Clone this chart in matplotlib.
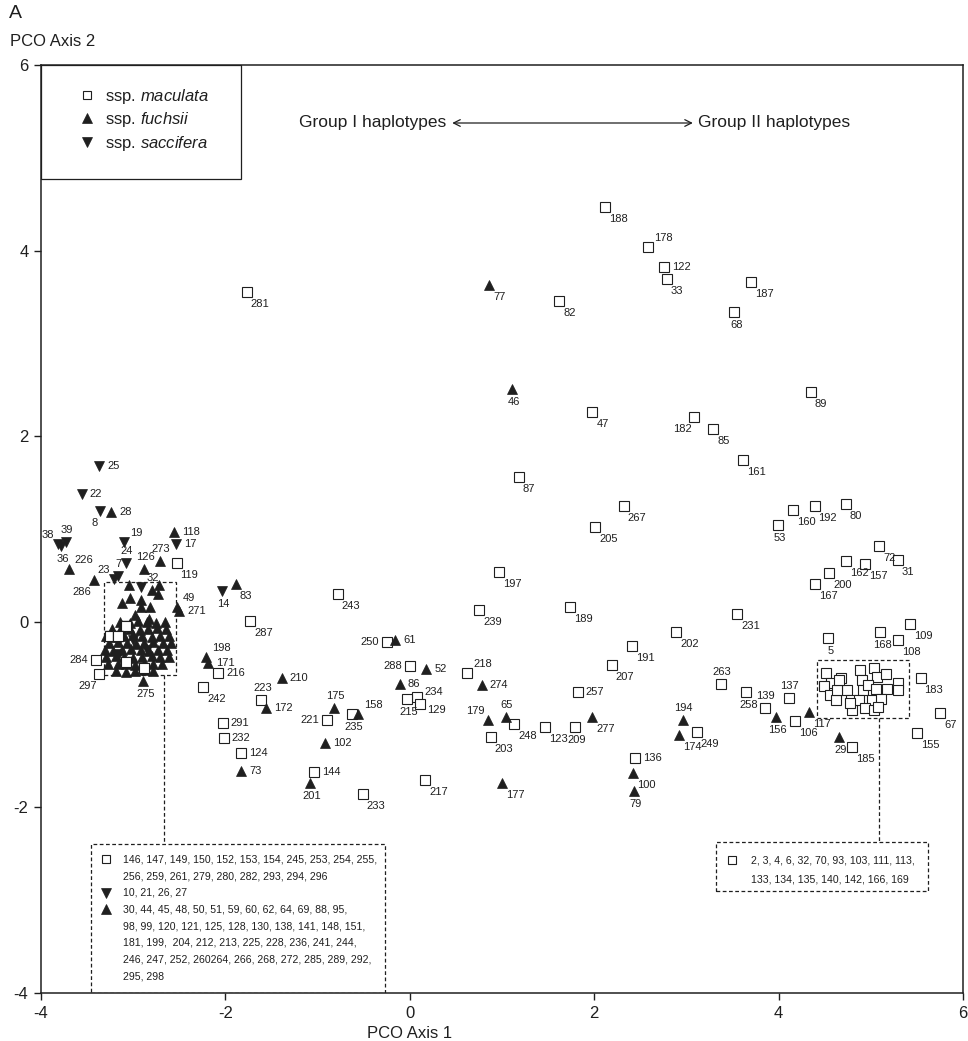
import matplotlib
matplotlib.use('Agg')
import matplotlib.pyplot as plt
from matplotlib.patches import Rectangle
from matplotlib.lines import Line2D

plt.rcParams['font.family'] = ['Liberation Sans', 'DejaVu Sans']
plt.rcParams['axes.unicode_minus'] = False
plt.rcParams['mathtext.fontset'] = 'custom'
plt.rcParams['mathtext.rm'] = 'Liberation Sans'
plt.rcParams['mathtext.it'] = 'Liberation Sans:italic'

INK = '#1f1f1f'
LBL_FS = 8      # 点编号字号
NOTE_FS = 7.6   # 虚线框内说明字号

# ---- 数据: ssp. maculata (方块, 带编号)
mac_id = [188, 178, 122, 33, 187, 68, 82, 281, 89, 47,
          182, 85, 161, 87, 267, 205, 160, 192, 80, 53,
          72, 31, 162, 157, 200, 167, 197, 239, 189, 231,
          202, 191, 5, 168, 109, 108, 207, 218, 288, 263,
          258, 234, 215, 129, 257, 248, 123, 209, 249, 203,
          136, 217, 119, 243, 287, 250, 216, 242, 223, 235,
          221, 291, 232, 124, 144, 233, 284, 297, 183, 137,
          139, 106, 67, 155, 185]
mac_x = [2.12, 2.58, 2.76, 2.79, 3.70, 3.52, 1.62, -1.77, 4.35, 1.98,
         3.08, 3.29, 3.61, 1.18, 2.32, 2.01, 4.16, 4.39, 4.73, 3.99,
         5.09, 5.29, 4.73, 4.94, 4.55, 4.40, 0.97, 0.75, 1.74, 3.55,
         2.89, 2.41, 4.54, 5.10, 5.43, 5.30, 2.19, 0.62, 0.00, 3.37,
         3.65, 0.08, -0.03, 0.11, 1.82, 1.13, 1.47, 1.79, 3.11, 0.88,
         2.44, 0.17, -2.53, -0.78, -1.73, -0.25, -2.08, -2.24, -1.61, -0.63,
         -0.90, -2.03, -2.02, -1.83, -1.04, -0.51, -3.40, -3.37, 5.54, 4.11,
         3.85, 4.18, 5.75, 5.50, 4.80]
mac_y = [4.47, 4.04, 3.82, 3.69, 3.66, 3.34, 3.46, 3.55, 2.48, 2.26,
         2.21, 2.08, 1.74, 1.56, 1.25, 1.02, 1.20, 1.25, 1.27, 1.04,
         0.82, 0.67, 0.66, 0.62, 0.53, 0.41, 0.54, 0.13, 0.16, 0.08,
         -0.11, -0.26, -0.17, -0.11, -0.02, -0.20, -0.47, -0.55, -0.48, -0.67,
         -0.76, -0.81, -0.83, -0.89, -0.76, -1.10, -1.13, -1.13, -1.19, -1.24,
         -1.47, -1.70, 0.63, 0.30, 0.01, -0.22, -0.55, -0.70, -0.84, -0.99,
         -1.06, -1.09, -1.25, -1.41, -1.62, -1.86, -0.41, -0.56, -0.61, -0.82,
         -0.93, -1.07, -0.98, -1.20, -1.35]

# ssp. fuchsii (正三角, 带编号)
fuc_id = [77, 46, 52, 86, 274, 179, 65, 277, 194, 174,
          100, 79, 177, 61, 83, 49, 271, 198, 171, 210,
          172, 175, 158, 102, 73, 201, 156, 117, 29, 28,
          118, 126, 273, 226, 286, 32, 275]
fuc_x = [0.86, 1.11, 0.18, -0.11, 0.78, 0.85, 1.04, 1.98, 2.96, 2.92,
         2.42, 2.43, 1.00, -0.16, -1.89, -2.53, -2.50, -2.21, -2.19, -1.39,
         -1.56, -0.82, -0.56, -0.92, -1.83, -1.08, 3.97, 4.33, 4.65, -3.24,
         -2.56, -2.88, -2.71, -3.70, -3.43, -2.80, -2.89]
fuc_y = [3.63, 2.51, -0.51, -0.67, -0.68, -1.06, -1.03, -1.03, -1.06, -1.22,
         -1.63, -1.82, -1.74, -0.20, 0.41, 0.16, 0.12, -0.38, -0.44, -0.61,
         -0.93, -0.93, -0.99, -1.31, -1.61, -1.74, -1.03, -0.97, -1.24, 1.18,
         0.97, 0.57, 0.65, 0.57, 0.45, 0.34, -0.64]

# ssp. saccifera (倒三角, 带编号)
sac_id = [25, 22, 8, 39, 38, 36, 19, 17, 24, 7, 23, 14]
sac_x = [-3.37, -3.56, -3.36, -3.73, -3.82, -3.78, -3.10, -2.54, -3.08, -3.17, -3.21, -2.04]
sac_y = [1.68, 1.38, 1.19, 0.86, 0.84, 0.82, 0.86, 0.84, 0.63, 0.49, 0.46, 0.33]

# 左侧聚团 (不单独标注)
lc_fuc_x = [-3.05, -2.72, -2.73, -3.12, -3.03, -2.92, -2.91, -2.82, -2.98, -2.83,
            -3.14, -3.04, -2.95, -2.85, -2.75, -2.65,
            -3.23, -3.13, -3.03, -2.93, -2.84, -2.74, -2.64,
            -3.29, -3.19, -3.10, -3.00, -2.90, -2.80, -2.71, -2.61,
            -3.26, -3.17, -3.07, -2.97, -2.88, -2.78, -2.68, -2.59,
            -3.31, -3.22, -3.12, -3.02, -2.92, -2.83, -2.73, -2.63,
            -3.29, -3.19, -3.10, -3.00, -2.90, -2.80, -2.71, -2.61,
            -3.27, -3.17, -3.08, -2.98, -2.88, -2.78, -2.69,
            -3.19, -3.08, -2.98, -2.88, -2.78]
lc_fuc_y = [0.40, 0.40, 0.30, 0.20, 0.26, 0.24, 0.16, 0.16, 0.07, 0.03,
            -0.00, -0.01, 0.01, -0.00, -0.01, 0.00,
            -0.08, -0.07, -0.08, -0.09, -0.08, -0.07, -0.08,
            -0.15, -0.16, -0.15, -0.14, -0.15, -0.16, -0.15, -0.15,
            -0.23, -0.22, -0.23, -0.24, -0.23, -0.22, -0.23, -0.23,
            -0.30, -0.31, -0.30, -0.29, -0.30, -0.31, -0.30, -0.30,
            -0.38, -0.37, -0.38, -0.39, -0.38, -0.37, -0.38, -0.38,
            -0.46, -0.45, -0.46, -0.47, -0.46, -0.45, -0.46,
            -0.53, -0.54, -0.53, -0.52, -0.53]
lc_sac_x = [-2.92, -3.00, -2.85, -3.15]
lc_sac_y = [0.37, -0.20, -0.30, -0.35]
lc_mac_x = [-3.08, -3.08, -3.08, -3.08, -3.25, -3.25, -3.25, -3.25, -3.16, -3.16,
            -3.16, -3.16, -3.08, -3.08, -3.08, -3.08, -2.88, -2.88, -2.88, -2.88]
lc_mac_y = [-0.05, -0.05, -0.05, -0.05, -0.15, -0.15, -0.15, -0.15, -0.15, -0.15,
            -0.15, -0.15, -0.43, -0.43, -0.43, -0.43, -0.50, -0.50, -0.50, -0.50]

# 右侧聚团
rc_mac_x = [4.51, 4.57, 4.49, 4.68, 4.74, 4.56, 4.62, 4.79, 4.80, 4.88,
            4.90, 4.92, 5.03, 5.07, 5.16, 4.97, 5.06, 5.18, 5.30, 5.29,
            4.87, 5.01, 5.11, 4.94, 5.03, 5.08, 4.63, 4.66, 4.77]
rc_mac_y = [-0.55, -0.66, -0.69, -0.61, -0.73, -0.79, -0.84, -0.84, -0.95, -0.52,
            -0.63, -0.73, -0.50, -0.59, -0.56, -0.68, -0.72, -0.72, -0.66, -0.73,
            -0.84, -0.84, -0.83, -0.93, -0.95, -0.92, -0.73, -0.63, -0.88]

left_note = [('s', ['146, 147, 149, 150, 152, 153, 154, 245, 253, 254, 255,',
                    '256, 259, 261, 279, 280, 282, 293, 294, 296']),
             ('v', ['10, 21, 26, 27']),
             ('^', ['30, 44, 45, 48, 50, 51, 59, 60, 62, 64, 69, 88, 95,',
                    '98, 99, 120, 121, 125, 128, 130, 138, 141, 148, 151,',
                    '181, 199,  204, 212, 213, 225, 228, 236, 241, 244,',
                    '246, 247, 252, 260264, 266, 268, 272, 285, 289, 292,',
                    '295, 298'])]
right_note = [('s', ['2, 3, 4, 6, 32, 70, 93, 103, 111, 113,',
                     '133, 134, 135, 140, 142, 166, 169'])]

# ---- 标签位置 (偏移像素, 对齐)
OFF = {'br': (4, -12, 'left'), 'b': (2, -13, 'center'), 'r': (8, 0, 'left'),
       'ur': (6, 9, 'left'), 'u': (1, 12, 'center'), 'l': (-8, 0, 'right'),
       'ul': (-4, 9, 'right'), 'bl': (-2, -12, 'right'),
       'r+': (7, 5, 'left'), 'r-': (7, -6, 'left')}
LABEL_POS = {178: 'ur', 122: 'r', 68: 'b', 182: 'bl', 53: 'b', 5: 'b', 168: 'b',
             218: 'ur', 288: 'l', 263: 'u', 258: 'b', 234: 'r+', 215: 'b', 129: 'r-',
             257: 'r', 209: 'b', 136: 'r', 216: 'r', 250: 'l', 223: 'u', 235: 'b',
             221: 'l', 291: 'r', 232: 'r', 124: 'r', 144: 'r', 284: 'l', 297: 'bl',
             137: 'u', 139: 'u',
             46: 'b', 52: 'r', 86: 'r', 274: 'r', 179: 'ul', 65: 'u', 194: 'u', 79: 'b',
             61: 'r', 49: 'ur', 271: 'r', 198: 'ur', 171: 'r', 210: 'r', 172: 'r',
             175: 'u', 158: 'ur', 102: 'r', 73: 'r', 201: 'b', 156: 'b', 29: 'b',
             28: 'r', 118: 'r', 126: 'u', 273: 'u', 226: 'ur', 286: 'bl', 32: 'u',
             275: 'b',
             25: 'r', 22: 'r', 8: 'bl', 39: 'u', 38: 'ul', 36: 'b', 19: 'ur', 17: 'r',
             24: 'u', 7: 'u', 23: 'ul', 14: 'b'}

SQ = dict(ls='none', marker='s', ms=6.8, mfc='white', mec=INK, mew=0.8)
UP = dict(ls='none', marker='^', ms=7.2, mfc=INK, mec=INK, mew=0.5)
DN = dict(ls='none', marker='v', ms=7.2, mfc=INK, mec=INK, mew=0.5)

fig = plt.figure(figsize=(9.68, 10.41), dpi=100)
ax = fig.add_axes([41 / 968, 1 - 993 / 1041, 922 / 968, 928 / 1041])

ax.plot(mac_x, mac_y, zorder=3, **SQ)
ax.plot(rc_mac_x, rc_mac_y, zorder=3, **SQ)
ax.plot(fuc_x, fuc_y, zorder=4, **UP)
ax.plot(sac_x, sac_y, zorder=4, **DN)
ax.plot(lc_fuc_x, lc_fuc_y, zorder=4, **dict(UP, ms=7.6))
ax.plot(lc_sac_x, lc_sac_y, zorder=4, **DN)
ax.plot(lc_mac_x, lc_mac_y, zorder=5, **SQ)

for ids, xs, ys in [(mac_id, mac_x, mac_y), (fuc_id, fuc_x, fuc_y), (sac_id, sac_x, sac_y)]:
    for i, x, y in zip(ids, xs, ys):
        dx, dy, ha = OFF[LABEL_POS.get(i, 'br')]
        ax.annotate(str(i), (x, y), xytext=(dx, dy), textcoords='offset pixels',
                    ha=ha, va='center', fontsize=LBL_FS, color=INK, zorder=6)

# 虚线框
dash = dict(ls=(0, (3, 2)), lw=0.9, color=INK)
ax.add_patch(Rectangle((-3.32, -0.573), 0.783, 1.005, fill=False, **dash))
ax.add_patch(Rectangle((4.412, -1.040), 1.001, 0.628, fill=False, **dash))
ax.plot([-2.671, -2.671], [-0.573, -2.394], **dash)
ax.plot([5.087, 5.087], [-1.040, -2.370], **dash)
ax.add_patch(Rectangle((-3.455, -4.0), 3.187, 1.606, fill=False, **dash))
ax.add_patch(Rectangle((3.317, -2.901), 2.298, 0.531, fill=False, **dash))

def note(items, mx, tx, y0, step=0.18):
    y = y0
    for mk, lines in items:
        st = SQ if mk == 's' else (UP if mk == '^' else DN)
        ax.plot([mx], [y], **dict(st, ms=6.4 if mk == 's' else 7.0))
        for line in lines:
            ax.text(tx, y, line, ha='left', va='center', fontsize=NOTE_FS, color=INK)
            y -= step

note(left_note, -3.295, -3.115, -2.56)
note(right_note, 3.497, 3.696, -2.567, step=0.215)

# 组别箭头
ax.annotate('', xy=(3.07, 5.375), xytext=(0.46, 5.375),
            arrowprops=dict(arrowstyle='<->', lw=0.9, color=INK, shrinkA=0, shrinkB=0,
                            mutation_scale=12))
ax.text(0.40, 5.375, 'Group I haplotypes', ha='right', va='center', fontsize=12.5, color=INK)
ax.text(3.125, 5.375, 'Group II haplotypes', ha='left', va='center', fontsize=12.5, color=INK)

# 图例
ax.add_patch(Rectangle((0, 1 - 114 / 928), 200 / 922, 114 / 928, transform=ax.transAxes,
                       fill=False, lw=0.9, ec=INK, zorder=7))
handles = [Line2D([], [], **dict(SQ, ms=5.5)), Line2D([], [], **UP), Line2D([], [], **DN)]
labels = [r'ssp. $\it{maculata}$', r'ssp. $\it{fuchsii}$', r'ssp. $\it{saccifera}$']
ax.legend(handles, labels, loc='center left', bbox_to_anchor=(0.032, 0.941), frameon=False,
          borderpad=0, handlelength=1.0, handletextpad=0.55, labelspacing=0.28, fontsize=12,
          labelcolor=INK)

ax.set_xlim(-4, 6)
ax.set_ylim(-4, 6)
ax.set_xticks([-4, -2, 0, 2, 4, 6])
ax.set_yticks([-4, -2, 0, 2, 4, 6])
ax.tick_params(direction='out', length=5, width=1, labelsize=12, pad=4, colors=INK)
for sp in ax.spines.values():
    sp.set_linewidth(1.1)
    sp.set_color(INK)

ax.set_xlabel('PCO Axis 1', fontsize=12, color=INK)
ax.xaxis.set_label_coords(0.4, -0.036)
fig.text(10 / 968, 1 - 41.7 / 1041, 'PCO Axis 2', fontsize=12, va='center', ha='left', color=INK)
fig.text(9 / 968, 1 - 14 / 1041, 'A', fontsize=14, va='center', ha='left', color=INK)

fig.savefig('out.png', dpi=100)
